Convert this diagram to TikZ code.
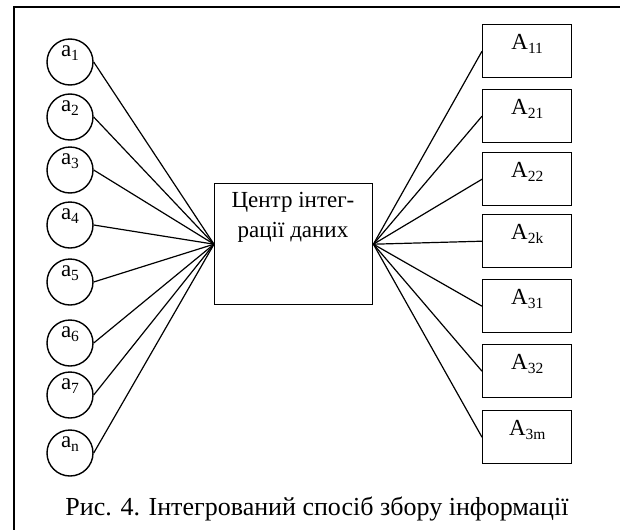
\documentclass[tikz,border=0pt]{standalone}
\usepackage{fontspec}
\setmainfont{Liberation Serif}
\newcommand{\mysub}[1]{\raisebox{-0.2em}{\fontsize{15.5}{15.5}\selectfont #1}}
\begin{document}
\begin{tikzpicture}[x=1pt,y=-1pt,
  line width=1.4pt,
  circ/.style={draw,circle,minimum size=46pt,inner sep=0pt},
  abox/.style={draw,rectangle,minimum width=89pt,minimum height=53pt,inner sep=0pt,anchor=north west},
  lbl/.style={anchor=base,inner sep=0pt,font=\fontsize{23}{25}\selectfont},
  conn/.style={line width=1.2pt}]
\useasboundingbox (0,0) rectangle (620,530);
\coordinate (ftl) at (14,7);
\coordinate (ftr) at (620,7);
\coordinate (fbl) at (14,530);
\draw[line width=1.6pt] (ftr) -- (ftl) -- (fbl);
% centre box
\node[draw,rectangle,minimum width=158pt,minimum height=121pt,inner sep=0pt,anchor=north west] (c) at (214,183) {};
\node[lbl] (ct1) at (293,207) {Центр інтег-};
\node[lbl] (ct2) at (293,237) {рації даних};
% circles
\foreach \n/\y/\s in {1/62/1,2/117/2,3/170/3,4/225/4,5/282/5,6/343/6,7/395/7,8/453/n}{
  \node[circ] (a\n) at (70,\y) {};
  \node[lbl] (at\n) at ([yshift=6pt]a\n.center) {a\mysub{\s}};
  \draw[conn] (a\n.east) -- (c.west);
}
% right boxes
\foreach \n/\y/\s in {1/24/11,2/89/21,3/152/22,4/214/2k,5/279/31,6/344/32,7/410/3m}{
  \node[abox] (b\n) at (482,\y) {};
  \node[lbl] (bt\n) at ([yshift=-25pt]b\n.north) {A\mysub{\s}};
  \draw[conn] (c.east) -- (b\n.west);
}
\node[lbl,font=\fontsize{26}{28}\selectfont] (cap) at (317,515) {Рис. 4. Інтегрований спосіб збору інформації};
\end{tikzpicture}
\end{document}
